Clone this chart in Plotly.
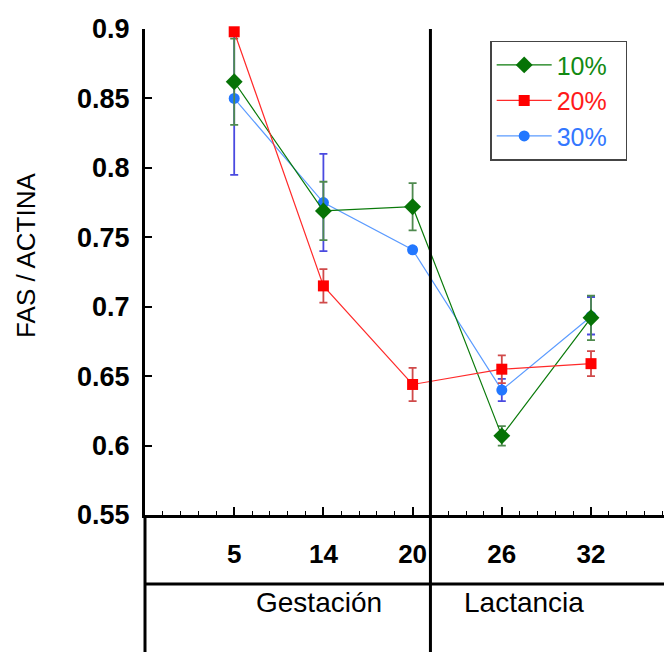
import plotly.graph_objects as go

days = ["5", "14", "20", "26", "32"]
v10 = [0.862, 0.769, 0.772, 0.607, 0.692]
e10 = [0.031, 0.021, 0.017, 0.007, 0.016]
v20 = [0.898, 0.715, 0.644, 0.655, 0.659]
e20 = [0.002, 0.012, 0.012, 0.010, 0.009]
v30 = [0.850, 0.775, 0.741, 0.640, 0.693]
e30_plus = [0.048, 0.035, 0.002, 0.008, 0.014]
e30_minus = [0.055, 0.035, 0.002, 0.008, 0.013]
yticks = [0.55, 0.6, 0.65, 0.7, 0.75, 0.8, 0.85, 0.9]
ytick_text = ["0.55", "0.6", "0.65", "0.7", "0.75", "0.8", "0.85", "0.9"]
phases = ["Gestación", "Lactancia"]
phase_x = [1.95, 4.25]
divider_x = 3.2

xpos = list(range(1, len(days) + 1))
FONT = "Liberation Sans, Arial, sans-serif"

fig = go.Figure()

fig.add_trace(go.Scatter(
    x=xpos, y=v30, mode="lines+markers",
    name="<span style='color:#3377ff'>30%</span>&nbsp;&nbsp;",
    legendrank=3,
    line=dict(color="#5b9bff", width=1.2),
    marker=dict(symbol="circle", size=11, color="#2277ff"),
    error_y=dict(type="data", array=e30_plus, arrayminus=e30_minus, symmetric=False,
                 color="#4a4ae0", thickness=1.8, width=4),
    cliponaxis=False))

fig.add_trace(go.Scatter(
    x=xpos, y=v10, mode="lines+markers",
    name="<span style='color:#128a12'>10%</span>&nbsp;&nbsp;",
    legendrank=1,
    line=dict(color="#0a7a0a", width=1.2),
    marker=dict(symbol="diamond", size=13, color="#067306"),
    error_y=dict(type="data", array=e10, color="#4f8a4f", thickness=1.8, width=4),
    cliponaxis=False))

fig.add_trace(go.Scatter(
    x=xpos, y=v20, mode="lines+markers",
    name="<span style='color:#ff1a1a'>20%</span>&nbsp;&nbsp;",
    legendrank=2,
    line=dict(color="#ff2a2a", width=1.2),
    marker=dict(symbol="square", size=11, color="#ff0000"),
    error_y=dict(type="data", array=e20, color="#d04a4a", thickness=1.8, width=4),
    cliponaxis=False))

# structure lines
fig.add_shape(type="line", xref="paper", yref="paper", x0=0, x1=0, y0=0, y1=-0.3,
              line=dict(color="black", width=3))
fig.add_shape(type="line", xref="paper", yref="paper", x0=0, x1=1.02, y0=-0.142, y1=-0.142,
              line=dict(color="black", width=3))
fig.add_shape(type="line", xref="x", yref="paper", x0=divider_x, x1=divider_x, y0=1, y1=-0.3,
              line=dict(color="black", width=3))

for name, px in zip(phases, phase_x):
    fig.add_annotation(x=px, y=-0.216, xref="x", yref="paper", text=name, showarrow=False,
                       font=dict(family=FONT, size=28, color="black"))

fig.add_annotation(x=-0.226, y=0.535, xref="paper", yref="paper", text="FAS / ACTINA",
                   textangle=-90, showarrow=False, xanchor="center", yanchor="middle",
                   font=dict(family=FONT, size=26, color="black"))

fig.update_layout(
    width=664, height=644,
    margin=dict(l=137, r=0, t=21, b=137),
    plot_bgcolor="white", paper_bgcolor="white",
    showlegend=True,
    legend=dict(x=0.655, y=0.976, xanchor="left", yanchor="top",
                bgcolor="white", bordercolor="#444444", borderwidth=1.5,
                font=dict(family=FONT, size=25), itemwidth=55,
                tracegroupgap=0),
    xaxis=dict(range=[0, 5.908], tickvals=xpos, ticktext=days,
               ticks="inside", ticklen=8, tickwidth=1.5, tickcolor="black",
               minor=dict(dtick=0.2, tick0=0, ticks="inside", ticklen=4, tickwidth=1, tickcolor="black"),
               showline=True, linewidth=3, linecolor="black", showgrid=False, zeroline=False,
               ticklabelstandoff=14,
               tickfont=dict(family=FONT, size=26, color="black", weight="bold")),
    yaxis=dict(range=[0.55, 0.9], tickvals=yticks, ticktext=ytick_text,
               ticks="inside", ticklen=7, tickwidth=1.5, tickcolor="black",
               showline=True, linewidth=3, linecolor="black", showgrid=False, zeroline=False,
               ticklabelstandoff=7,
               tickfont=dict(family=FONT, size=27, color="black", weight="bold")),
)

fig.write_html("out.html")
